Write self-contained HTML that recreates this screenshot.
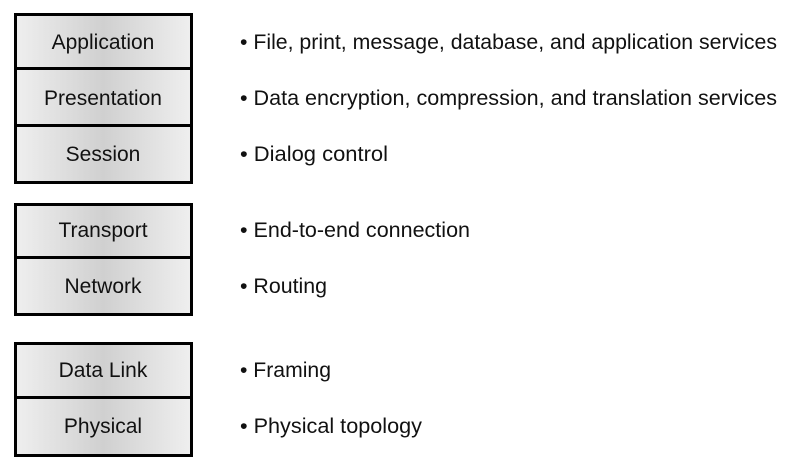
<!DOCTYPE html>
<html><head><meta charset="utf-8"><style>
html,body{margin:0;padding:0;background:#fff;}
svg{display:block}
.b{font-family:"Liberation Sans",Arial,sans-serif;font-size:21px;fill:#111;text-anchor:middle}
.t{font-family:"Liberation Sans Narrow","Liberation Sans",sans-serif;font-size:21px;fill:#111}
</style></head><body>
<svg width="797" height="467" viewBox="0 0 797 467" xmlns="http://www.w3.org/2000/svg">
<defs>
<linearGradient id="g" x1="0" x2="1" y1="0" y2="0">
<stop offset="0" stop-color="#efefef"/><stop offset="0.5" stop-color="#d0d0d0"/><stop offset="1" stop-color="#efefef"/>
</linearGradient>
</defs>
<g stroke="#000" stroke-width="3" fill="url(#g)">
<rect x="15.5" y="14.5" width="176" height="168"/>
<line x1="15.5" y1="68.5" x2="191.5" y2="68.5"/>
<line x1="15.5" y1="125.5" x2="191.5" y2="125.5"/>
<rect x="15.5" y="204.5" width="176" height="110"/>
<line x1="15.5" y1="257.5" x2="191.5" y2="257.5"/>
<rect x="15.5" y="343.5" width="176" height="112"/>
<line x1="15.5" y1="397.5" x2="191.5" y2="397.5"/>
</g>
<text class="b" x="103" y="49">Application</text>
<text class="b" x="103" y="105">Presentation</text>
<text class="b" x="103" y="161">Session</text>
<text class="b" x="103" y="237">Transport</text>
<text class="b" x="103" y="293">Network</text>
<text class="b" x="103" y="377">Data Link</text>
<text class="b" x="103" y="433">Physical</text>
<text class="t" x="240" y="49" textLength="537" lengthAdjust="spacingAndGlyphs">• File, print, message, database, and application services</text>
<text class="t" x="240" y="105" textLength="537" lengthAdjust="spacingAndGlyphs">• Data encryption, compression, and translation services</text>
<text class="t" x="240" y="161" textLength="148" lengthAdjust="spacingAndGlyphs">• Dialog control</text>
<text class="t" x="240" y="237" textLength="230" lengthAdjust="spacingAndGlyphs">• End-to-end connection</text>
<text class="t" x="240" y="293" textLength="87" lengthAdjust="spacingAndGlyphs">• Routing</text>
<text class="t" x="240" y="377" textLength="91" lengthAdjust="spacingAndGlyphs">• Framing</text>
<text class="t" x="240" y="433" textLength="182" lengthAdjust="spacingAndGlyphs">• Physical topology</text>
</svg>
</body></html>
